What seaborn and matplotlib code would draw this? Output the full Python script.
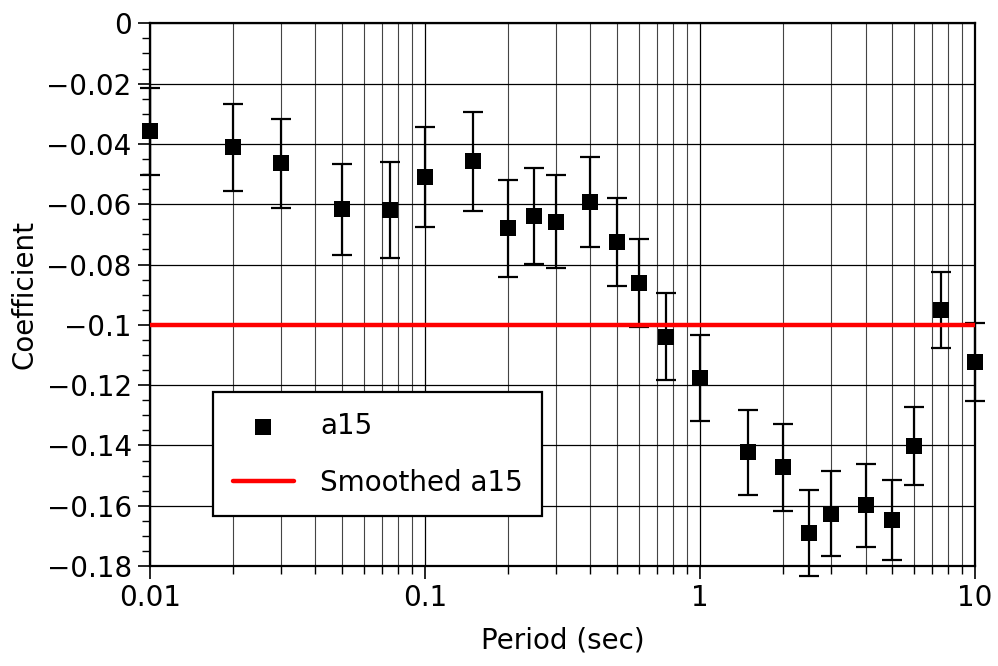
import numpy as np
import pandas as pd
import matplotlib
matplotlib.use("Agg")
import matplotlib.pyplot as plt
import seaborn as sns
from matplotlib.ticker import FixedLocator, LogLocator, MultipleLocator, NullFormatter

# ---- data ----
periods = [0.01, 0.02, 0.03, 0.05, 0.075, 0.1, 0.15, 0.2, 0.25, 0.3, 0.4, 0.5,
           0.6, 0.75, 1.0, 1.5, 2.0, 2.5, 3.0, 4.0, 5.0, 6.0, 7.5, 10.0]
coef = [-0.0358, -0.0411, -0.0464, -0.0617, -0.0618, -0.0510, -0.0458, -0.0680,
        -0.0639, -0.0658, -0.0594, -0.0725, -0.0860, -0.1040, -0.1176, -0.1423,
        -0.1473, -0.1690, -0.1626, -0.1599, -0.1647, -0.1403, -0.0951, -0.1123]
coef_err = [0.0144, 0.0144, 0.0147, 0.0151, 0.0159, 0.0165, 0.0165, 0.0161,
            0.0158, 0.0155, 0.0149, 0.0146, 0.0146, 0.0144, 0.0143, 0.0142,
            0.0143, 0.0142, 0.0141, 0.0138, 0.0133, 0.0129, 0.0127, 0.0129]
smooth_periods = [0.01, 10.0]
smooth_coef = [-0.1, -0.1]

x_ticks = [0.01, 0.1, 1, 10]
x_tick_labels = ["0.01", "0.1", "1", "10"]
y_ticks = [0, -0.02, -0.04, -0.06, -0.08, -0.1, -0.12, -0.14, -0.16, -0.18]
y_tick_labels = ["0", "\u22120.02", "\u22120.04", "\u22120.06", "\u22120.08", "\u22120.1",
                 "\u22120.12", "\u22120.14", "\u22120.16", "\u22120.18"]

df = pd.DataFrame({"period": periods, "coef": coef, "err": coef_err})
df_s = pd.DataFrame({"period": smooth_periods, "coef": smooth_coef})

sns.set_style("white")
plt.rcParams["font.family"] = ["DejaVu Sans"]
plt.rcParams["font.size"] = 20
plt.rcParams["text.color"] = "black"
plt.rcParams["axes.labelcolor"] = "black"
plt.rcParams["xtick.color"] = "black"
plt.rcParams["ytick.color"] = "black"

fig = plt.figure(figsize=(9.98, 6.66), dpi=100)
ax = fig.add_axes([0.150, 0.150, 0.827, 0.815])

ax.set_xscale("log")

ax.errorbar(df["period"], df["coef"], yerr=df["err"], fmt="none", ecolor="black",
            elinewidth=1.6, capsize=7, capthick=1.6, zorder=3, clip_on=False)
sns.scatterplot(data=df, x="period", y="coef", marker="s", s=135, color="black",
                edgecolor="black", linewidth=0, ax=ax, zorder=4, label="a15", clip_on=False)
sns.lineplot(data=df_s, x="period", y="coef", color="red", linewidth=3.2, ax=ax,
             zorder=5, label="Smoothed a15")

ax.set_xlim(0.01, 10)
ax.set_ylim(-0.18, 0)

ax.xaxis.set_major_locator(FixedLocator(x_ticks))
ax.set_xticklabels(x_tick_labels)
ax.xaxis.set_minor_locator(LogLocator(base=10, subs=np.arange(2, 10)))
ax.xaxis.set_minor_formatter(NullFormatter())
ax.yaxis.set_major_locator(FixedLocator(y_ticks))
ax.set_yticklabels(y_tick_labels)
ax.yaxis.set_minor_locator(MultipleLocator(0.005))

ax.grid(which="major", axis="both", color="black", linewidth=0.9, zorder=1)
ax.grid(which="minor", axis="x", color="#444444", linewidth=0.8, zorder=1)
ax.set_axisbelow(True)

for sp in ax.spines.values():
    sp.set_visible(True)
    sp.set_color("black")
    sp.set_linewidth(1.6)

ax.tick_params(axis="both", which="major", direction="out", length=9, width=1.2,
               color="black", labelcolor="black", labelsize=20, pad=4, left=True, bottom=True)
ax.tick_params(axis="both", which="minor", direction="out", length=6, width=1.0,
               color="black", left=True, bottom=True)

ax.set_xlabel("Period (sec)", fontsize=20, labelpad=10, color="black")
ax.set_ylabel("Coefficient", fontsize=20, labelpad=6, color="black")

leg = ax.legend(loc="upper left", bbox_to_anchor=(0.077, 0.32), borderaxespad=0,
                frameon=True, fancybox=False, edgecolor="black", framealpha=1,
                fontsize=20, handlelength=2.2, handletextpad=0.95, labelspacing=1.05,
                borderpad=0.7)
leg.get_frame().set_linewidth(1.6)
for t in leg.get_texts():
    t.set_color("black")

fig.savefig("out.png", dpi=100)
